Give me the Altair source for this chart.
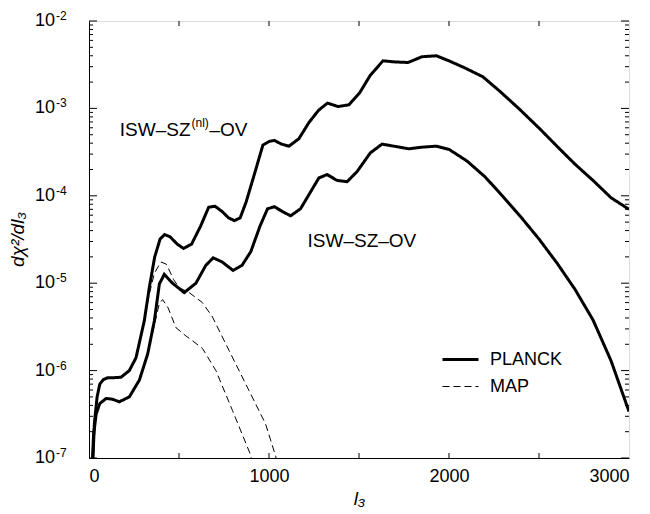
import altair as alt
import pandas as pd

# ---------------- data ----------------
# ISW-SZ(nl)-OV, PLANCK (thick solid, upper)
nlP_l = [20, 30, 45, 60, 80, 105, 140, 178, 224, 261, 307, 335, 365, 395, 420, 450, 490, 525,
         570, 620, 665, 700, 740, 775, 808, 840, 873, 920, 966, 1003, 1030, 1070, 1111, 1166,
         1222, 1275, 1325, 1384, 1444, 1503, 1563, 1633, 1702, 1772, 1850, 1930, 2000, 2089,
         2188, 2278, 2387, 2506, 2605, 2700, 2800, 2900, 3000]
nlP_v = [8e-8, 2.5e-7, 5.0e-7, 7.0e-7, 7.9e-7, 8.3e-7, 8.3e-7, 8.4e-7, 1.0e-6, 1.4e-6, 3.7e-6,
         8.9e-6, 2.0e-5, 3.2e-5, 3.6e-5, 3.4e-5, 2.8e-5, 2.5e-5, 2.8e-5, 4.5e-5, 7.4e-5, 7.6e-5,
         6.6e-5, 5.6e-5, 5.2e-5, 5.6e-5, 8.5e-5, 1.8e-4, 3.8e-4, 4.2e-4, 4.3e-4, 3.9e-4, 3.7e-4,
         4.5e-4, 6.9e-4, 9.5e-4, 1.15e-3, 1.05e-3, 1.1e-3, 1.5e-3, 2.4e-3, 3.5e-3, 3.4e-3,
         3.35e-3, 3.9e-3, 4.0e-3, 3.5e-3, 2.9e-3, 2.3e-3, 1.6e-3, 1.0e-3, 5.8e-4, 3.6e-4,
         2.3e-4, 1.5e-4, 9.5e-5, 7.0e-5]

# ISW-SZ-OV, PLANCK (thick solid, lower)
linP_l = [18, 25, 40, 60, 95, 130, 169, 224, 280, 326, 363, 391, 418, 464, 529, 594, 649, 690,
          740, 800, 850, 899, 950, 992, 1030, 1075, 1120, 1175, 1230, 1277, 1323, 1378, 1434,
          1490, 1563, 1628, 1693, 1776, 1850, 1930, 2000, 2100, 2200, 2300, 2400, 2500, 2600,
          2700, 2800, 2900, 3000]
linP_v = [8e-8, 1.8e-7, 3.2e-7, 4.2e-7, 4.8e-7, 4.7e-7, 4.4e-7, 5.0e-7, 7.8e-7, 1.55e-6,
          3.7e-6, 9.8e-6, 1.26e-5, 1.0e-5, 7.8e-6, 1.0e-5, 1.6e-5, 1.95e-5, 1.75e-5, 1.4e-5,
          1.6e-5, 2.3e-5, 4.5e-5, 7.1e-5, 7.5e-5, 6.6e-5, 5.9e-5, 7.1e-5, 1.1e-4, 1.6e-4,
          1.75e-4, 1.5e-4, 1.45e-4, 1.9e-4, 3.1e-4, 3.9e-4, 3.7e-4, 3.45e-4, 3.6e-4, 3.7e-4,
          3.4e-4, 2.5e-4, 1.65e-4, 9.8e-5, 5.7e-5, 3.2e-5, 1.7e-5, 8.5e-6, 3.8e-6, 1.3e-6,
          3.4e-7]

# ISW-SZ(nl)-OV, MAP (dashed, upper)
nlM_l = [20, 30, 45, 60, 80, 105, 140, 178, 224, 261, 307, 335, 363, 400, 430, 470, 501, 557,
         630, 686, 778, 889, 981, 1037, 1050]
nlM_v = [8e-8, 2.5e-7, 5.0e-7, 7.0e-7, 7.9e-7, 8.3e-7, 8.3e-7, 8.4e-7, 1.0e-6, 1.4e-6, 3.7e-6,
         7.5e-6, 1.3e-5, 1.75e-5, 1.65e-5, 1.1e-5, 8.9e-6, 7.8e-6, 6.0e-6, 4.1e-6, 1.7e-6,
         5.9e-7, 2.45e-7, 1.05e-7, 8e-8]

# ISW-SZ-OV, MAP (dashed, lower)
linM_l = [18, 25, 40, 60, 95, 130, 169, 224, 280, 326, 363, 390, 409, 440, 483, 538, 630, 705,
          797, 899, 910]
linM_v = [8e-8, 1.8e-7, 3.2e-7, 4.2e-7, 4.8e-7, 4.7e-7, 4.4e-7, 5.0e-7, 7.8e-7, 1.55e-6,
          3.3e-6, 5.8e-6, 6.5e-6, 5.2e-6, 3.1e-6, 2.5e-6, 1.8e-6, 1.0e-6, 3.5e-7, 1.07e-7, 8e-8]

instruments = ["PLANCK", "MAP"]
x_tick_labels = [0, 1000, 2000, 3000]
x_minor_ticks = [500, 1000, 1500, 2000, 2500]
y_exponents = [-7, -6, -5, -4, -3, -2]

FONT = "Liberation Sans"

# ---------------- tables ----------------
rows = []
for name, inst, ls, vs in [("nl-MAP", "MAP", nlM_l, nlM_v), ("lin-MAP", "MAP", linM_l, linM_v),
                           ("nl-PLANCK", "PLANCK", nlP_l, nlP_v),
                           ("lin-PLANCK", "PLANCK", linP_l, linP_v)]:
    for l, v in zip(ls, vs):
        rows.append({"series": name, "instrument": inst, "l": l, "v": v})
curves = pd.DataFrame(rows)

W, H = 540, 437
xs = alt.Scale(domain=[0, 3000], nice=False, zero=False)
ys = alt.Scale(type="log", domain=[1e-7, 1e-2], nice=False)

legend = alt.Legend(orient="none", legendX=352, legendY=325, title=None,
                    symbolType="stroke", symbolSize=1296, symbolStrokeColor="black",
                    labelFontSize=18, labelFont=FONT, labelOffset=10, clipHeight=27,
                    rowPadding=0)

lines = alt.Chart(curves).mark_line(color="black", clip=True).encode(
    x=alt.X("l:Q", scale=xs,
            axis=alt.Axis(values=x_tick_labels, format="d", ticks=False, grid=False,
                          labelFontSize=18, labelFont=FONT, labelPadding=9,
                          labelColor="black", domainColor="black", title="l₃",
                          titleFont=FONT, titleFontSize=19, titleFontStyle="italic",
                          titleFontWeight="normal", titleY=40, titleBaseline="middle")),
    y=alt.Y("v:Q", scale=ys,
            axis=alt.Axis(labels=False, ticks=False, grid=False, domainColor="black",
                          title="dχ²/dl₃", titleFont=FONT, titleFontSize=19,
                          titleFontStyle="italic", titleFontWeight="normal",
                          titleAngle=270, titleX=-72, titleY=218, titleAlign="center",
                          titleBaseline="middle")),
    detail="series:N",
    strokeDash=alt.StrokeDash("instrument:N",
                              scale=alt.Scale(domain=instruments, range=[[1, 0], [7, 4]]),
                              legend=legend),
    strokeWidth=alt.StrokeWidth("instrument:N",
                                scale=alt.Scale(domain=instruments, range=[3, 1]),
                                legend=legend),
)

# inward tick marks
ymaj = pd.DataFrame({"v": [10.0 ** e for e in y_exponents]})
ymin = pd.DataFrame({"v": [k * 10.0 ** e for e in y_exponents[:-1] for k in range(2, 10)]})
xt = pd.DataFrame({"l": x_minor_ticks})

tick_layers = [
    alt.Chart(ymaj).mark_rule(color="black").encode(y=alt.Y("v:Q", scale=ys), x=alt.value(0), x2=alt.value(8)),
    alt.Chart(ymaj).mark_rule(color="black").encode(y=alt.Y("v:Q", scale=ys), x=alt.value(W), x2=alt.value(W - 8)),
    alt.Chart(ymin).mark_rule(color="black").encode(y=alt.Y("v:Q", scale=ys), x=alt.value(0), x2=alt.value(4)),
    alt.Chart(ymin).mark_rule(color="black").encode(y=alt.Y("v:Q", scale=ys), x=alt.value(W), x2=alt.value(W - 4)),
    alt.Chart(xt).mark_rule(color="black").encode(x=alt.X("l:Q", scale=xs), y=alt.value(H), y2=alt.value(H - 5)),
    alt.Chart(xt).mark_rule(color="black").encode(x=alt.X("l:Q", scale=xs), y=alt.value(0), y2=alt.value(5)),
]

# y tick labels 10^e
ylab = pd.DataFrame({"v": [10.0 ** e for e in y_exponents],
                     "base": ["10"] * len(y_exponents),
                     "exp": ["-" + str(-e) for e in y_exponents]})
ybase = alt.Chart(ylab).mark_text(align="right", baseline="middle", fontSize=18, font=FONT,
                                  color="black").encode(
    y=alt.Y("v:Q", scale=ys), x=alt.value(-34), text="base:N")
yexp = alt.Chart(ylab).mark_text(align="left", baseline="middle", fontSize=12, font=FONT,
                                 color="black", dy=-5).encode(
    y=alt.Y("v:Q", scale=ys), x=alt.value(-33), text="exp:N")

# curve annotations
ann_up = pd.DataFrame({"l": [564], "v": [5.7e-4]})
ann_lo = pd.DataFrame({"l": [1214], "v": [3.0e-5], "t": ["ISW–SZ–OV"]})
a1 = alt.Chart(ann_up).mark_text(align="right", baseline="middle", fontSize=19, font=FONT,
                                 color="black", text="ISW–SZ").encode(
    x=alt.X("l:Q", scale=xs), y=alt.Y("v:Q", scale=ys))
a2 = alt.Chart(ann_up).mark_text(align="left", baseline="middle", fontSize=12, font=FONT,
                                 color="black", text="(nl)", dx=1, dy=-7).encode(
    x=alt.X("l:Q", scale=xs), y=alt.Y("v:Q", scale=ys))
a3 = alt.Chart(ann_up).mark_text(align="left", baseline="middle", fontSize=19, font=FONT,
                                 color="black", text="–OV", dx=19).encode(
    x=alt.X("l:Q", scale=xs), y=alt.Y("v:Q", scale=ys))
a4 = alt.Chart(ann_lo).mark_text(align="left", baseline="middle", fontSize=19, font=FONT,
                                 color="black").encode(
    x=alt.X("l:Q", scale=xs), y=alt.Y("v:Q", scale=ys), text="t:N")

chart = alt.layer(lines, *tick_layers, ybase, yexp, a1, a2, a3, a4).properties(
    width=W, height=H,
    autosize=alt.AutoSizeParams(type="none"),
    padding={"left": 81, "top": 13, "right": 13, "bottom": 56},
).configure_view(stroke="black", strokeWidth=1).configure(font=FONT, background="white")

chart.save("out.html", embed_options={"renderer": "svg", "actions": False})
